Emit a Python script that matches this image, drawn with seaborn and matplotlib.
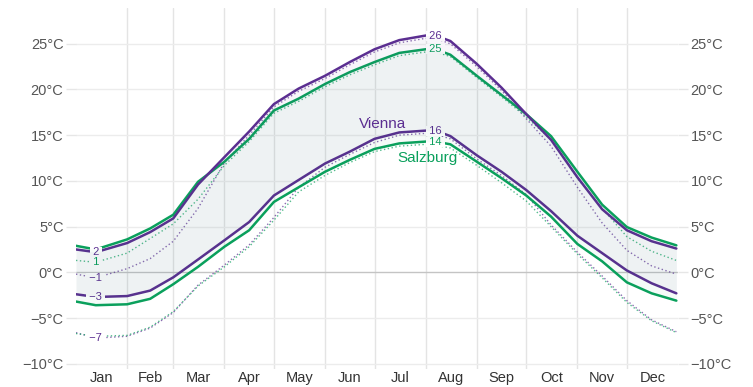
import matplotlib
matplotlib.use("Agg")
import matplotlib.pyplot as plt
import seaborn as sns
import pandas as pd

# day of year (0 = 1 Jan)
days = [0, 12, 31, 45, 59, 74, 90, 105, 120, 135, 151, 166, 181, 196, 212, 218,
        227, 243, 258, 273, 288, 304, 319, 334, 349, 364]

vienna_max = [2.5, 2.2, 3.2, 4.4, 5.9, 9.6, 12.6, 15.4, 18.4, 20.1, 21.5, 23.0, 24.4,
              25.4, 25.9, 25.9, 25.3, 22.8, 20.2, 17.3, 14.5, 10.4, 6.9, 4.6, 3.4, 2.6]
salzburg_max = [2.9, 2.5, 3.6, 4.8, 6.3, 9.9, 12.1, 14.6, 17.7, 19.0, 20.6, 21.9, 23.0,
                24.0, 24.4, 24.4, 23.8, 21.5, 19.4, 17.3, 14.9, 11.0, 7.4, 4.95, 3.8, 2.95]
vienna_dot_hi = [-0.2, -0.6, 0.4, 1.5, 3.4, 7.0, 12.0, 15.0, 18.1, 19.8, 21.2, 22.7, 24.1,
                 25.1, 25.6, 25.6, 25.0, 22.5, 19.9, 16.8, 13.8, 9.3, 5.4, 2.4, 0.7, -0.2]
salzburg_dot_hi = [1.3, 1.1, 2.1, 3.7, 5.3, 8.0, 11.7, 14.3, 17.4, 18.7, 20.3, 21.6, 22.7,
                   23.7, 24.1, 24.1, 23.6, 21.3, 19.2, 17.0, 14.5, 10.3, 7.0, 3.9, 2.3, 1.3]
vienna_min = [-2.4, -2.7, -2.6, -2.0, -0.55, 1.4, 3.5, 5.5, 8.4, 10.1, 11.9, 13.2, 14.6,
              15.3, 15.5, 15.5, 14.9, 12.8, 11.0, 9.0, 6.7, 4.0, 2.1, 0.2, -1.2, -2.3]
salzburg_min = [-3.2, -3.6, -3.5, -2.9, -1.3, 0.6, 2.8, 4.6, 7.7, 9.3, 11.0, 12.3, 13.5,
                14.1, 14.3, 14.3, 14.0, 12.1, 10.3, 8.4, 6.1, 3.1, 1.2, -1.1, -2.3, -3.1]
vienna_dot_lo = [-6.6, -7.2, -7.0, -6.1, -4.4, -1.4, 0.8, 3.0, 6.0, 9.3, 11.5, 12.9, 14.2,
                 15.0, 15.2, 15.1, 14.6, 12.4, 10.6, 8.5, 5.2, 2.2, -0.4, -3.1, -5.2, -6.5]
salzburg_dot_lo = [-6.7, -7.0, -6.9, -6.0, -4.3, -1.5, 0.6, 2.8, 5.7, 8.8, 10.6, 12.0, 13.2,
                   13.8, 14.0, 13.9, 13.6, 11.7, 9.8, 7.8, 5.0, 2.0, -0.6, -3.3, -5.3, -6.6]

months = ["Jan", "Feb", "Mar", "Apr", "May", "Jun", "Jul", "Aug", "Sep", "Oct", "Nov", "Dec"]
month_len = [31, 28, 31, 30, 31, 30, 31, 31, 30, 31, 30, 31]
yticks = [-10, -5, 0, 5, 10, 15, 20, 25]

# inline value labels: (series, day index, text)
value_labels = [("vienna_max", 1, "2"), ("salzburg_dot_hi", 1, "1"),
                ("vienna_dot_hi", 1, "\u22121"), ("vienna_min", 1, "\u22123"),
                ("vienna_dot_lo", 1, "\u22127"),
                ("vienna_max", 15, "26"), ("salzburg_max", 15, "25"),
                ("vienna_min", 15, "16"), ("salzburg_min", 15, "14")]

PURPLE = "#5b2e91"
GREEN = "#0aa05c"

df = pd.DataFrame({"day": days, "vienna_max": vienna_max, "salzburg_max": salzburg_max,
                   "vienna_dot_hi": vienna_dot_hi, "salzburg_dot_hi": salzburg_dot_hi,
                   "vienna_min": vienna_min, "salzburg_min": salzburg_min,
                   "vienna_dot_lo": vienna_dot_lo, "salzburg_dot_lo": salzburg_dot_lo})

sns.set_theme(style="white")
plt.rcParams["font.family"] = ["Liberation Sans", "DejaVu Sans"]

fig = plt.figure(figsize=(7.53, 3.87), dpi=100)
ax = fig.add_axes([0.1009, 0.046, 0.7995, 0.933])

# month boundaries and horizontal grid
starts = [sum(month_len[:i]) for i in range(12)]
for s in starts[1:]:
    ax.axvline(s, color="#e4e4e4", lw=1, zorder=0)
for t in yticks:
    ax.axhline(t, color="#c4c4c4" if t == 0 else "#ececec", lw=1, zorder=0)

styles = {
    "vienna_dot_hi": (PURPLE, ":"), "salzburg_dot_hi": (GREEN, ":"),
    "vienna_dot_lo": (PURPLE, ":"), "salzburg_dot_lo": (GREEN, ":"),
    "salzburg_max": (GREEN, "-"), "salzburg_min": (GREEN, "-"),
    "vienna_max": (PURPLE, "-"), "vienna_min": (PURPLE, "-"),
}
for col, (c, ls) in styles.items():
    if ls == ":":
        sns.lineplot(data=df, x="day", y=col, ax=ax, color=c, lw=1.0, alpha=0.7,
                     zorder=2).lines[-1].set_dashes((1, 1.8))
    else:
        sns.lineplot(data=df, x="day", y=col, ax=ax, color=c, lw=1.8, zorder=3)

# the white box cuts a small gap into the line under each label
for col, day_i, txt in value_labels:
    c = PURPLE if col.startswith("vienna") else GREEN
    ax.text(days[day_i], df[col][day_i], f" {txt} ", color=c, fontsize=8, ha="center",
            va="center", zorder=4,
            bbox=dict(boxstyle="square,pad=0.0", fc="white", ec="none"))

# bands drawn on top, very light
ax.fill_between(days, vienna_min, vienna_max, color=PURPLE, alpha=0.04, lw=0, zorder=5)
ax.fill_between(days, salzburg_min, salzburg_max, color=GREEN, alpha=0.04, lw=0, zorder=5)

ax.text(186, 16.2, "Vienna", color=PURPLE, fontsize=11, ha="center", va="center", zorder=6)
ax.text(213, 12.5, "Salzburg", color=GREEN, fontsize=11, ha="center", va="center", zorder=6)

ax.set_xlim(0, 365)
ax.set_ylim(-10.6, 28.9)
ax.set_xticks([s + l / 2 for s, l in zip(starts, month_len)])
ax.set_xticklabels(months)
ax.set_yticks(yticks)
ax.set_yticklabels([f"{t}°C".replace("-", "\u2212") for t in yticks])
ax.tick_params(axis="x", length=0, pad=1.5, labelsize=10.5, labelcolor="#333333")
ax.tick_params(axis="y", length=7, width=1, color="#e6e6e6", pad=2, labelsize=10.5,
               labelcolor="#555555", left=True, right=True, labelleft=True, labelright=True)
ax.set_xlabel("")
ax.set_ylabel("")
for sp in ax.spines.values():
    sp.set_visible(False)

fig.savefig("out.png", dpi=100)
